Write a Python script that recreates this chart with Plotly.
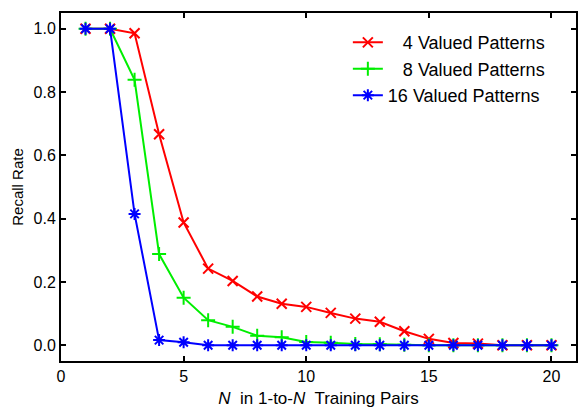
import plotly.graph_objects as go

n_pairs = list(range(1, 21))
recall_4 = [1.0, 1.0, 0.986, 0.667, 0.388, 0.242, 0.203, 0.154, 0.131, 0.121, 0.102, 0.084,
            0.074, 0.044, 0.020, 0.007, 0.005, 0.0, 0.0, 0.0]
recall_8 = [1.0, 1.0, 0.839, 0.288, 0.150, 0.079, 0.058, 0.030, 0.025, 0.010, 0.008, 0.004,
            0.003, 0.001, 0.0, 0.0, 0.0, 0.0, 0.0, 0.0]
recall_16 = [1.0, 1.0, 0.415, 0.016, 0.009, 0.0, 0.0, 0.0, 0.0, 0.0, 0.0, 0.0,
             0.0, 0.0, 0.0, 0.0, 0.0, 0.0, 0.0, 0.0]
series_names = ["\u2007 4 Valued Patterns", "\u2007 8 Valued Patterns", "16 Valued Patterns"]

FONT = "Liberation Sans, Arial, Helvetica, sans-serif"

fig = go.Figure()
specs = [
    (recall_4, series_names[0], "#ff0000", "x-thin-open"),
    (recall_8, series_names[1], "#00ee00", "cross-thin-open"),
    (recall_16, series_names[2], "#0000ff", "asterisk-open"),
]
for ys, name, color, sym in specs:
    fig.add_trace(go.Scatter(
        x=n_pairs, y=ys, name=name, mode="lines+markers",
        line=dict(color=color, width=2),
        marker=dict(symbol=sym, size=10, color=color, line=dict(color=color, width=2)),
    ))

fig.update_layout(
    width=578, height=414,
    margin=dict(l=61, r=0, t=13, b=53),
    paper_bgcolor="white", plot_bgcolor="white",
    font=dict(family=FONT, color="black", size=15),
    showlegend=True,
    legend=dict(x=0.557, y=0.968, xanchor="left", yanchor="top",
                bgcolor="rgba(0,0,0,0)", font=dict(size=18, family=FONT),
                itemwidth=30, tracegroupgap=0),
)
fig.update_xaxes(
    range=[0, 21], tickvals=[0, 5, 10, 15, 20],
    showline=True, linecolor="black", linewidth=2, mirror="ticks",
    ticks="inside", ticklen=5, tickwidth=1.5, tickcolor="black",
    showgrid=False, zeroline=False,
    tickfont=dict(size=16),
    title=dict(text="<i>N</i>  in 1-to-<i>N</i>  Training Pairs", font=dict(size=17), standoff=8),
)
fig.update_yaxes(
    range=[-0.05, 1.05], tickvals=[0, 0.2, 0.4, 0.6, 0.8, 1.0], tickformat=".1f",
    showline=True, linecolor="black", linewidth=2, mirror="ticks",
    ticks="inside", ticklen=5, tickwidth=1.5, tickcolor="black",
    showgrid=False, zeroline=False,
    tickfont=dict(size=16),
    title=dict(text="Recall Rate", font=dict(size=15), standoff=6),
)

fig.write_html("out.html", config={"displayModeBar": False},
               post_script="document.body.style.margin='0';")
